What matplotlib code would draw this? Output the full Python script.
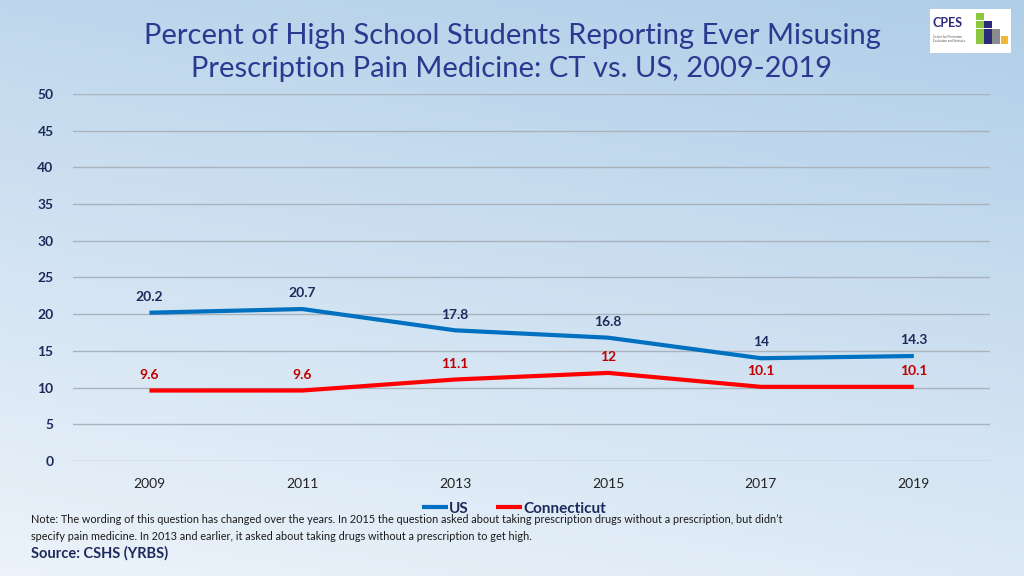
import numpy as np
import matplotlib.pyplot as plt
from matplotlib.patches import Rectangle

plt.rcParams['font.family'] = ['Lato', 'DejaVu Sans']

# ---------- datos ----------
years = ['2009', '2011', '2013', '2015', '2017', '2019']
us_vals = [20.2, 20.7, 17.8, 16.8, 14.0, 14.3]
ct_vals = [9.6, 9.6, 11.1, 12.0, 10.1, 10.1]
us_labels = ['20.2', '20.7', '17.8', '16.8', '14', '14.3']
ct_labels = ['9.6', '9.6', '11.1', '12', '10.1', '10.1']
y_ticks = [0, 5, 10, 15, 20, 25, 30, 35, 40, 45, 50]

navy = '#1F2A5C'
title_col = '#2B3990'
blue = '#0070C0'
red = '#FF0000'
dark_red = '#C00000'

fig = plt.figure(figsize=(10.24, 5.76), dpi=100)

# fondo degradado
bg = fig.add_axes([0, 0, 1, 1], zorder=-10)
ny, nx = 200, 300
yy, xx = np.mgrid[0:1:ny*1j, 0:1:nx*1j]
t = np.clip(0.75*yy + 0.25*(1 - xx), 0, 1)   # 0 arriba-derecha, 1 abajo-izq
top = np.array([176, 206, 232]) / 255
bot = np.array([236, 243, 250]) / 255
img = top[None, None, :]*(1 - t[..., None]) + bot[None, None, :]*t[..., None]
bg.imshow(img, aspect='auto', extent=[0, 1, 0, 1], origin='upper')
bg.set_axis_off()

# ---------- gráfica ----------
ax = fig.add_axes([0.0713, 0.1997, 0.8957, 0.6371])
ax.set_facecolor('none')
x = np.arange(len(years))
ax.plot(x, us_vals, color=blue, lw=3, solid_capstyle='butt', label='US')
ax.plot(x, ct_vals, color=red, lw=3, solid_capstyle='butt', label='Connecticut')

for xi, v, s in zip(x, us_vals, us_labels):
    ax.annotate(s, (xi, v), xytext=(0, 7), textcoords='offset points',
                ha='center', va='bottom', fontsize=10, fontweight='bold', color=navy)
for xi, v, s in zip(x, ct_vals, ct_labels):
    ax.annotate(s, (xi, v), xytext=(0, 7), textcoords='offset points',
                ha='center', va='bottom', fontsize=10, fontweight='bold', color=dark_red)

ax.set_xlim(-0.5, len(years) - 0.5)
ax.set_ylim(0, 50)
ax.set_yticks(y_ticks)
ax.set_xticks(x)
ax.set_xticklabels(years)
ax.grid(axis='y', color='#A9B3BD', lw=1)
ax.set_axisbelow(True)
for sp in ax.spines.values():
    sp.set_visible(False)
ax.tick_params(length=0)
ax.tick_params(axis='y', pad=14, labelsize=10, labelcolor=navy)
ax.tick_params(axis='x', pad=12, labelsize=10, labelcolor='#222222')
for lb in ax.get_yticklabels():
    lb.set_fontweight('bold')

leg = fig.legend(*ax.get_legend_handles_labels(), loc='center',
                 bbox_to_anchor=(0.502, 0.117), ncol=2, frameon=False,
                 handlelength=1.7, handletextpad=0.1, columnspacing=1.8,
                 borderpad=0, prop={'size': 11, 'weight': 'bold'})
for tx in leg.get_texts():
    tx.set_color(navy)

# ---------- textos ----------
fig.text(0.5, 0.909, 'Percent of High School Students Reporting Ever Misusing\n'
         'Prescription Pain Medicine: CT vs. US, 2009-2019',
         ha='center', va='center', fontsize=21, color=title_col, linespacing=1.32)
fig.text(0.030, 0.0835, "Note: The wording of this question has changed over the years. In 2015 the question asked about "
         "taking prescription drugs without a prescription, but didn’t\nspecify pain medicine. In 2013 and earlier, "
         "it asked about taking drugs without a prescription to get high.",
         ha='left', va='center', fontsize=7.8, color='#1A1A1A', linespacing=1.6)
fig.text(0.030, 0.040, 'Source: CSHS (YRBS)', ha='left', va='center',
         fontsize=10.5, fontweight='bold', color=navy)

# logo aproximado
lg = fig.add_axes([0.908, 0.908, 0.079, 0.076])
lg.set_xlim(0, 80)
lg.set_ylim(0, 44)
lg.add_patch(Rectangle((0, 0), 80, 44, color='white'))
lg.text(3, 30, 'CPES', fontsize=9, fontweight='bold', color='#2E2A7A', va='center')
lg.text(3, 14, 'Center for Prevention\nEvaluation and Statistics', fontsize=2.2,
        color='#555555', va='center')
sq = [(46, 41, '#8DC63F'), (46, 33, '#8DC63F'), (54, 33, '#2E2A7A'),
      (46, 25, '#8DC63F'), (54, 25, '#2E2A7A'), (62, 25, '#8A8C8E'),
      (46, 17, '#8DC63F'), (54, 17, '#2E2A7A'), (62, 17, '#8A8C8E'), (70, 17, '#F7B733')]
for sx, sy, c in sq:
    lg.add_patch(Rectangle((sx, sy - 8), 7.6, 7.6, color=c, lw=0))
lg.set_axis_off()

plt.savefig('out.png', dpi=100)
